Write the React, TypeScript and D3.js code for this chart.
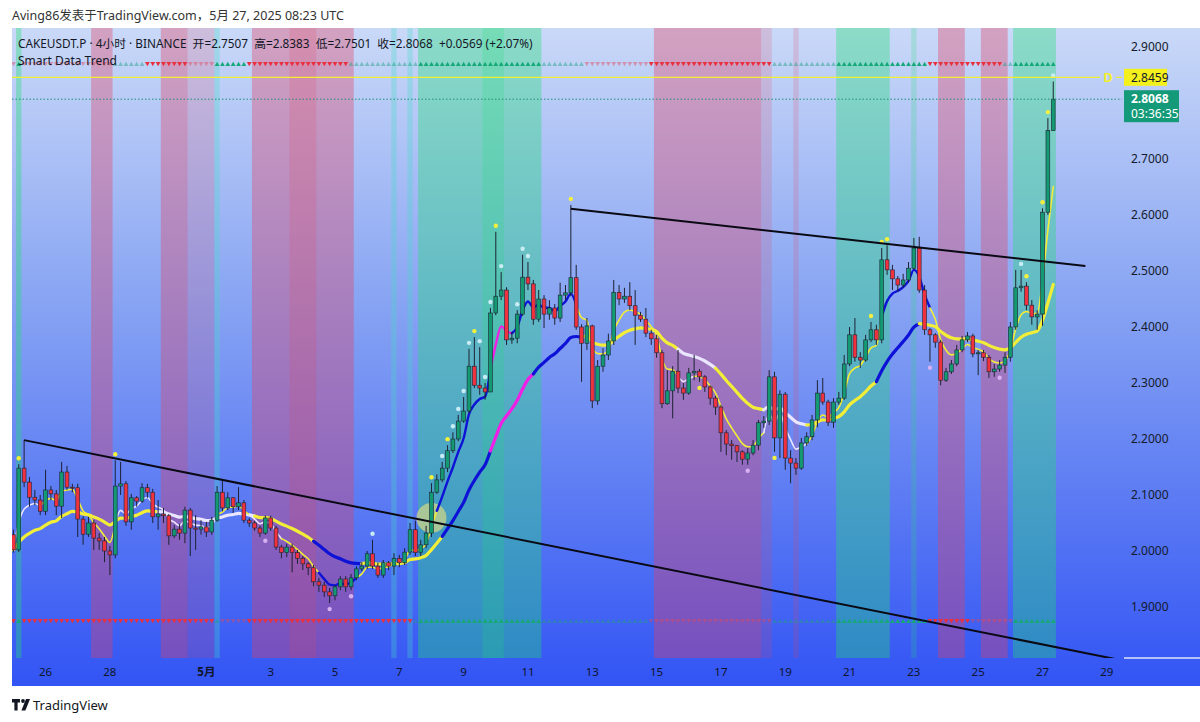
import { useEffect, useRef } from 'react';
import * as d3 from 'd3';

// 4h bars, CAKEUSDT.P, starting 25 Apr 2025 00:00 UTC
const startTime = Date.UTC(2025, 3, 25, 0, 0);
const barMs = 4 * 60 * 60 * 1000;

const firstOpen = 2.029;
const closes = [
	2.002, 2.148, 2.123, 2.096, 2.091, 2.071, 2.109, 2.102, 2.080, 2.141,
	2.114, 2.113, 2.057, 2.030, 2.050, 2.023, 2.018, 2.000, 1.993, 2.116,
	2.120, 2.052, 2.095, 2.089, 2.113, 2.105, 2.061, 2.066, 2.063, 2.027,
	2.039, 2.032, 2.073, 2.041, 2.039, 2.043, 2.034, 2.055, 2.105, 2.077,
	2.095, 2.079, 2.086, 2.055, 2.050, 2.041, 2.032, 2.059, 2.041, 2.007,
	1.997, 2.007, 1.997, 1.987, 1.977, 1.970, 1.945, 1.939, 1.927, 1.920,
	1.936, 1.950, 1.936, 1.952, 1.968, 1.973, 1.995, 1.973, 1.957, 1.979,
	1.973, 1.987, 1.979, 1.998, 2.038, 1.997, 2.011, 2.032, 2.105, 2.127,
	2.148, 2.179, 2.200, 2.232, 2.250, 2.330, 2.296, 2.291, 2.284, 2.425,
	2.455, 2.466, 2.377, 2.380, 2.423, 2.489, 2.477, 2.414, 2.450, 2.423,
	2.434, 2.416, 2.457, 2.461, 2.488, 2.400, 2.371, 2.402, 2.268, 2.330,
	2.350, 2.375, 2.462, 2.450, 2.455, 2.438, 2.421, 2.414, 2.389, 2.379,
	2.354, 2.263, 2.286, 2.321, 2.291, 2.282, 2.318, 2.321, 2.311, 2.293,
	2.273, 2.257, 2.211, 2.191, 2.188, 2.177, 2.164, 2.175, 2.189, 2.229,
	2.232, 2.311, 2.202, 2.280, 2.166, 2.157, 2.148, 2.193, 2.204, 2.234,
	2.282, 2.266, 2.230, 2.266, 2.273, 2.334, 2.386, 2.346, 2.341, 2.377,
	2.395, 2.377, 2.520, 2.502, 2.486, 2.475, 2.484, 2.505, 2.541, 2.466,
	2.395, 2.386, 2.373, 2.305, 2.320, 2.334, 2.359, 2.377, 2.384, 2.352,
	2.354, 2.346, 2.320, 2.325, 2.332, 2.346, 2.400, 2.470, 2.473, 2.439,
	2.418, 2.423, 2.605, 2.7507, 2.8068,
];
const highs = [
	2.038, 2.155, 2.198, 2.132, 2.109, 2.100, 2.145, 2.116, 2.109, 2.159,
	2.152, 2.120, 2.120, 2.062, 2.061, 2.055, 2.032, 2.025, 2.009, 2.162,
	2.159, 2.125, 2.102, 2.098, 2.121, 2.120, 2.111, 2.091, 2.077, 2.066,
	2.046, 2.048, 2.079, 2.077, 2.064, 2.055, 2.052, 2.061, 2.116, 2.127,
	2.105, 2.096, 2.114, 2.091, 2.059, 2.054, 2.045, 2.063, 2.063, 2.045,
	2.011, 2.013, 2.013, 2.002, 1.991, 1.980, 1.975, 1.952, 1.945, 1.934,
	1.939, 1.955, 1.955, 1.959, 1.973, 1.980, 2.000, 2.020, 1.979, 1.984,
	1.982, 1.996, 1.993, 2.005, 2.050, 2.054, 2.020, 2.045, 2.121, 2.137,
	2.159, 2.189, 2.212, 2.243, 2.275, 2.361, 2.382, 2.364, 2.300, 2.434,
	2.570, 2.498, 2.471, 2.391, 2.430, 2.529, 2.516, 2.484, 2.466, 2.457,
	2.448, 2.441, 2.479, 2.475, 2.618, 2.511, 2.405, 2.416, 2.404, 2.341,
	2.362, 2.388, 2.484, 2.475, 2.470, 2.480, 2.466, 2.427, 2.434, 2.395,
	2.386, 2.359, 2.323, 2.330, 2.359, 2.300, 2.327, 2.350, 2.325, 2.314,
	2.296, 2.277, 2.261, 2.216, 2.198, 2.189, 2.180, 2.184, 2.198, 2.234,
	2.241, 2.323, 2.320, 2.287, 2.284, 2.180, 2.166, 2.202, 2.212, 2.243,
	2.305, 2.309, 2.270, 2.273, 2.284, 2.350, 2.400, 2.416, 2.355, 2.386,
	2.409, 2.404, 2.541, 2.546, 2.511, 2.491, 2.495, 2.516, 2.559, 2.561,
	2.475, 2.398, 2.389, 2.377, 2.327, 2.341, 2.368, 2.384, 2.391, 2.388,
	2.359, 2.359, 2.350, 2.334, 2.341, 2.355, 2.409, 2.502, 2.502, 2.480,
	2.448, 2.430, 2.612, 2.773, 2.8383,
];
const lows = [
	1.997, 1.998, 2.114, 2.079, 2.082, 2.064, 2.064, 2.091, 2.064, 2.059,
	2.109, 2.105, 2.025, 2.011, 2.025, 2.002, 2.002, 1.980, 1.957, 1.987,
	2.100, 2.045, 2.038, 2.079, 2.086, 2.095, 2.050, 2.038, 2.050, 2.011,
	2.023, 2.020, 2.014, 1.991, 2.002, 2.029, 2.025, 2.029, 2.052, 2.071,
	2.073, 2.068, 2.073, 2.050, 2.043, 2.036, 2.025, 2.029, 2.036, 2.002,
	1.987, 1.989, 1.962, 1.977, 1.966, 1.957, 1.937, 1.927, 1.918, 1.907,
	1.912, 1.930, 1.927, 1.930, 1.948, 1.964, 1.968, 1.968, 1.952, 1.952,
	1.966, 1.957, 1.971, 1.975, 1.993, 1.991, 1.991, 2.005, 2.025, 2.102,
	2.123, 2.141, 2.175, 2.196, 2.229, 2.246, 2.291, 2.279, 2.270, 2.284,
	2.421, 2.448, 2.368, 2.370, 2.371, 2.420, 2.466, 2.404, 2.409, 2.398,
	2.413, 2.404, 2.409, 2.448, 2.455, 2.395, 2.302, 2.359, 2.255, 2.261,
	2.320, 2.341, 2.368, 2.439, 2.443, 2.430, 2.368, 2.409, 2.382, 2.368,
	2.345, 2.255, 2.261, 2.237, 2.282, 2.270, 2.279, 2.305, 2.302, 2.284,
	2.261, 2.243, 2.177, 2.171, 2.163, 2.159, 2.154, 2.154, 2.171, 2.180,
	2.220, 2.225, 2.177, 2.166, 2.145, 2.121, 2.136, 2.145, 2.188, 2.198,
	2.221, 2.261, 2.223, 2.220, 2.261, 2.270, 2.330, 2.338, 2.327, 2.338,
	2.373, 2.368, 2.371, 2.493, 2.466, 2.463, 2.470, 2.479, 2.502, 2.461,
	2.386, 2.338, 2.363, 2.296, 2.302, 2.316, 2.330, 2.355, 2.373, 2.346,
	2.314, 2.339, 2.309, 2.311, 2.320, 2.318, 2.338, 2.395, 2.463, 2.430,
	2.404, 2.395, 2.402, 2.600, 2.7501,
];

const priceTicks = [1.9, 2.0, 2.1, 2.2, 2.3, 2.4, 2.5, 2.6, 2.7, 2.9];
const dayLabels = ['26', '28', '5月', '3', '5', '7', '9', '11', '13', '15', '17', '19', '21', '23', '25', '27', '29'];
const dayDates = [
	'2025-04-26', '2025-04-28', '2025-05-01', '2025-05-03', '2025-05-05', '2025-05-07', '2025-05-09', '2025-05-11',
	'2025-05-13', '2025-05-15', '2025-05-17', '2025-05-19', '2025-05-21', '2025-05-23', '2025-05-25', '2025-05-27', '2025-05-29',
];

// trend state runs: [first bar, last bar, state]
const bandRuns: [number, number, string][] = [
	[1, 1, 'G'], [15, 18, 'R'], [28, 32, 'R'], [33, 37, 'r'], [38, 38, 'c'], [45, 63, 'R'], [52, 56, 'r'],
	[71, 71, 'c'], [74, 74, 'c'], [76, 98, 'G'], [88, 91, 'g'], [120, 139, 'R'], [140, 141, 'r'], [146, 146, 'r'],
	[154, 163, 'G'], [168, 168, 'g'], [173, 177, 'R'], [181, 185, 'R'], [187, 194, 'G'],
];
const topRowRuns: [number, number, string][] = [
	[0, 0, 'd'], [1, 1, 'U'], [2, 18, 'd'], [19, 24, 'u'], [25, 32, 'D'], [33, 37, 'd'], [38, 43, 'U'], [44, 62, 'D'],
	[63, 75, 'u'], [76, 98, 'U'], [99, 106, 'u'], [107, 118, 'd'], [119, 141, 'D'], [142, 153, 'u'], [154, 170, 'U'],
	[171, 184, 'D'], [185, 186, 'u'], [187, 194, 'U'],
];
const bottomRowRuns: [number, number, string][] = [
	[0, 0, 'D'], [1, 1, 'U'], [2, 37, 'D'], [38, 38, 'u'], [39, 43, 'd'], [44, 74, 'D'], [75, 75, 'u'], [76, 98, 'U'],
	[99, 118, 'u'], [119, 141, 'd'], [142, 153, 'u'], [154, 170, 'U'], [171, 178, 'D'], [179, 186, 'd'], [187, 194, 'U'],
];
const fastRuns: [number, number, string][] = [
	[0, 4, 'w'], [5, 18, 'y'], [19, 37, 'w'], [38, 43, 'y'], [44, 49, 'w'], [50, 56, 'y'], [57, 63, 'b'], [64, 78, 'y'],
	[79, 88, 'b'], [89, 92, 'm'], [93, 104, 'b'], [105, 123, 'y'], [124, 126, 'w'], [127, 139, 'y'], [140, 147, 'w'],
	[148, 161, 'y'], [162, 170, 'b'], [171, 194, 'y'],
];
const slowRuns: [number, number, string][] = [
	[0, 26, 'y'], [27, 44, 'w'], [45, 55, 'y'], [56, 64, 'b'], [65, 79, 'y'], [80, 88, 'b'], [89, 96, 'm'], [97, 105, 'b'],
	[106, 123, 'y'], [124, 130, 'w'], [131, 139, 'y'], [140, 147, 'w'], [148, 160, 'y'], [161, 168, 'b'], [169, 194, 'y'],
];

const yellowDotsAbove = [1, 19, 78, 81, 86, 90, 104, 160, 162, 163, 189, 192, 193];
const paleDotsAbove = [67, 80, 82, 83, 84, 85, 87, 88, 89, 91, 94, 95, 96, 188, 194];
const yellowDotsBelow = [128, 142];
const pinkDotsBelow = [47, 59, 63, 137, 171, 184];

const lowerTrend: [number, number][] = [[2, 2.198], [190, 1.837]];
const upperTrend: [number, number][] = [[104, 2.611], [200, 2.509]];
const breakout: [number, number] = [78, 2.059];
const dailyLevel = 2.8459;
const lastPrice = 2.8068;
const countdown = '03:36:35';

const ema = (vals: number[], n: number) => {
	const a = 2 / (n + 1);
	let e = vals[0];
	return vals.map((v, i) => (i === 0 ? e : (e = e + a * (v - e))));
};

const lineColors: Record<string, string> = { y: '#f2ee38', w: '#ebe6ff', b: '#0d12d6', m: '#f01fe6' };
const bandColors: Record<string, string> = {
	R: 'rgba(226,64,96,0.36)', r: 'rgba(226,64,96,0.18)', G: 'rgba(30,225,115,0.36)',
	g: 'rgba(30,225,115,0.2)', c: 'rgba(70,220,200,0.3)',
};
const markColors: Record<string, string> = {
	U: '#17a879', u: 'rgba(30,160,130,0.45)', D: '#e8303e', d: 'rgba(225,70,90,0.45)',
};

const FONT = "'Noto Sans', 'Noto Sans CJK SC', sans-serif";

export default function App() {
	const svgRef = useRef<SVGSVGElement>(null);

	useEffect(() => {
		if (!svgRef.current) return;
		const svg = d3.select(svgRef.current);
		svg.selectAll('*').remove();

		const left = 12, right = 1122, top = 28, bottom = 658, frameBottom = 686;
		const step = 5.36;
		const n = closes.length;
		const opens = [firstOpen, ...closes.slice(0, -1)];

		const x = d3
			.scaleTime()
			.domain([new Date(startTime), new Date(startTime + 204 * barMs)])
			.range([13.4, 13.4 + 204 * step]);
		const xi = (i: number) => x(new Date(startTime + i * barMs));
		const y = d3.scaleLinear().domain([1.9, 2.9]).range([607, 47]);

		const defs = svg.append('defs');
		const grad = defs
			.append('linearGradient')
			.attr('id', 'bg')
			.attr('gradientUnits', 'userSpaceOnUse')
			.attr('x1', 0).attr('y1', top).attr('x2', 0).attr('y2', frameBottom);
		grad.append('stop').attr('offset', '0%').attr('stop-color', '#cad9f8');
		grad.append('stop').attr('offset', '40%').attr('stop-color', '#8aa6f3');
		grad.append('stop').attr('offset', '100%').attr('stop-color', '#3254f4');
		defs.append('clipPath').attr('id', 'plot')
			.append('rect').attr('x', left).attr('y', top).attr('width', right - left).attr('height', bottom - top);

		svg.append('rect').attr('width', 1200).attr('height', 722).attr('fill', '#ffffff');
		svg.append('rect').attr('x', left).attr('y', top).attr('width', 1200 - left).attr('height', frameBottom - top).attr('fill', 'url(#bg)');

		const plot = svg.append('g').attr('clip-path', 'url(#plot)');

		// trend bands
		plot.selectAll('.band')
			.data(bandRuns)
			.enter()
			.append('rect')
			.attr('x', (d) => xi(d[0]) - step / 2)
			.attr('width', (d) => xi(d[1]) - xi(d[0]) + step)
			.attr('y', top)
			.attr('height', bottom - top)
			.attr('fill', (d) => bandColors[d[2]]);

		// triangle rows
		const tri = (cx: number, cy: number, up: boolean) =>
			up
				? `M${cx - 2.4},${cy + 2}L${cx + 2.4},${cy + 2}L${cx},${cy - 2.2}Z`
				: `M${cx - 2.4},${cy - 2}L${cx + 2.4},${cy - 2}L${cx},${cy + 2.2}Z`;
		const drawRow = (runs: [number, number, string][], cy: number) => {
			runs.forEach(([s, e, k]) => {
				for (let i = s; i <= e; i++) {
					plot.append('path').attr('d', tri(xi(i), cy, k === 'U' || k === 'u')).attr('fill', markColors[k]);
				}
			});
		};
		drawRow(topRowRuns, 64);
		drawRow(bottomRowRuns, 621);

		// breakout circle
		plot.append('circle')
			.attr('cx', xi(breakout[0])).attr('cy', y(breakout[1])).attr('r', 15)
			.attr('fill', 'rgba(238,226,120,0.6)');

		// trend lines of the indicator
		const fast = ema(closes, 5);
		const slow = ema(closes, 21);
		const drawRuns = (series: number[], runs: [number, number, string][], thin: boolean) => {
			runs.forEach(([s, e, c]) => {
				const idx = d3.range(s, Math.min(e + 1, n - 1) + 1);
				const line = d3.line<number>().x((i) => xi(i)).y((i) => y(series[i])).curve(d3.curveMonotoneX);
				plot.append('path')
					.datum(idx)
					.attr('d', line)
					.attr('fill', 'none')
					.attr('stroke', lineColors[c])
					.attr('stroke-width', thin ? (c === 'b' || c === 'm' ? 2.4 : 1.6) : 3.2)
					.attr('stroke-linecap', 'round');
			});
		};
		drawRuns(slow, slowRuns, false);
		drawRuns(fast, fastRuns, true);

		// candles
		const candles = plot.selectAll('.c').data(d3.range(n)).enter().append('g');
		candles.append('line')
			.attr('x1', (i) => xi(i)).attr('x2', (i) => xi(i))
			.attr('y1', (i) => y(highs[i])).attr('y2', (i) => y(lows[i]))
			.attr('stroke', '#1d2233').attr('stroke-width', 1);
		candles.append('rect')
			.attr('x', (i) => xi(i) - 1.9)
			.attr('width', 3.8)
			.attr('y', (i) => y(Math.max(opens[i], closes[i])))
			.attr('height', (i) => Math.max(1, Math.abs(y(opens[i]) - y(closes[i]))))
			.attr('fill', (i) => (closes[i] >= opens[i] ? '#139a72' : '#f0323f'))
			.attr('stroke', '#1d2233').attr('stroke-width', 0.6);

		// signal dots
		const dots = (list: number[], above: boolean, color: string) => {
			plot.selectAll(null)
				.data(list)
				.enter()
				.append('circle')
				.attr('cx', (i) => xi(i))
				.attr('cy', (i) => (above ? y(highs[i]) - 6 : y(lows[i]) + 6))
				.attr('r', 2.2)
				.attr('fill', color);
		};
		dots(yellowDotsAbove, true, '#f4f03c');
		dots(paleDotsAbove, true, '#c8ecf4');
		dots(yellowDotsBelow, false, '#f4f03c');
		dots(pinkDotsBelow, false, '#d6b0f0');

		// drawn trend lines
		const trendAt = (t: [number, number][], i: number) =>
			t[0][1] + ((t[1][1] - t[0][1]) * (i - t[0][0])) / (t[1][0] - t[0][0]);
		plot.append('line')
			.attr('x1', xi(lowerTrend[0][0])).attr('y1', y(lowerTrend[0][1]))
			.attr('x2', xi(210)).attr('y2', y(trendAt(lowerTrend, 210)))
			.attr('stroke', '#0a0a14').attr('stroke-width', 2);
		plot.append('line')
			.attr('x1', xi(upperTrend[0][0])).attr('y1', y(upperTrend[0][1]))
			.attr('x2', xi(upperTrend[1][0])).attr('y2', y(upperTrend[1][1]))
			.attr('stroke', '#0a0a14').attr('stroke-width', 2);

		// daily level + last price
		const yD = y(dailyLevel);
		svg.append('line').attr('x1', left).attr('x2', 1100).attr('y1', yD).attr('y2', yD).attr('stroke', '#f2ee30').attr('stroke-width', 1.2);
		svg.append('line').attr('x1', 1116).attr('x2', right).attr('y1', yD).attr('y2', yD).attr('stroke', '#f2ee30').attr('stroke-width', 1.2);
		svg.append('text').attr('x', 1108).attr('y', yD + 5).attr('text-anchor', 'middle')
			.attr('font-family', FONT).attr('font-size', 13).attr('font-weight', 'bold').attr('fill', '#f2ee30').text('D');
		const yL = y(lastPrice);
		svg.append('line').attr('x1', left).attr('x2', right).attr('y1', yL).attr('y2', yL)
			.attr('stroke', '#1f8f78').attr('stroke-width', 1).attr('stroke-dasharray', '1.5,2');

		// price axis
		svg.append('g').selectAll('text').data(priceTicks).enter().append('text')
			.attr('x', 1131).attr('y', (d) => y(d) + 4)
			.attr('font-family', FONT).attr('font-size', 12).attr('fill', '#151a2c')
			.text((d) => d.toFixed(4));
		svg.append('rect').attr('x', 1124).attr('y', yD - 8.5).attr('width', 43).attr('height', 17).attr('fill', '#f4f01c');
		svg.append('text').attr('x', 1131).attr('y', yD + 4.5).attr('font-family', FONT).attr('font-size', 12)
			.attr('fill', '#151a2c').text(dailyLevel.toFixed(4));
		svg.append('rect').attr('x', 1124).attr('y', yL - 9).attr('width', 55).attr('height', 32).attr('fill', '#149a78');
		svg.append('text').attr('x', 1131).attr('y', yL + 4).attr('font-family', FONT).attr('font-size', 12)
			.attr('font-weight', 'bold').attr('fill', '#ffffff').text(lastPrice.toFixed(4));
		svg.append('text').attr('x', 1131).attr('y', yL + 19).attr('font-family', FONT).attr('font-size', 12)
			.attr('fill', '#ffffff').text(countdown);
		svg.append('line').attr('x1', 1124).attr('x2', 1200).attr('y1', bottom).attr('y2', bottom)
			.attr('stroke', '#dfe6fb').attr('stroke-width', 1.5);

		// time axis
		svg.append('g').selectAll('text').data(dayLabels).enter().append('text')
			.attr('x', (_, k) => x(new Date(dayDates[k] + 'T00:00:00Z')))
			.attr('y', 676)
			.attr('text-anchor', 'middle')
			.attr('font-family', FONT).attr('font-size', 11.5)
			.attr('font-weight', (d) => (d === '5月' ? 'bold' : 'normal'))
			.attr('fill', '#10152a')
			.text((d) => d);

		// legend
		svg.append('text').attr('x', 18).attr('y', 48).attr('font-family', FONT).attr('font-size', 11.8).attr('fill', '#141826')
			.text('CAKEUSDT.P · 4小时 · BINANCE  开=2.7507  高=2.8383  低=2.7501  收=2.8068  +0.0569 (+2.07%)')
			.attr('xml:space', 'preserve');
		svg.append('text').attr('x', 18).attr('y', 65).attr('font-family', FONT).attr('font-size', 12).attr('fill', '#141826')
			.text('Smart Data Trend');

		// header and footer
		svg.append('text').attr('x', 12).attr('y', 20).attr('font-family', FONT).attr('font-size', 12.5).attr('fill', '#333333')
			.text('Aving86发表于TradingView.com，5月 27, 2025 08:23 UTC');
		const logo = svg.append('g').attr('fill', '#131722');
		logo.append('path').attr('d', 'M12,699 h8 v3.6 h-2.4 v8 h-3.2 v-8 h-2.4 Z');
		logo.append('circle').attr('cx', 23).attr('cy', 701).attr('r', 1.9);
		logo.append('path').attr('d', 'M26,699 h4 l-4.6,11.6 h-4 Z');
		svg.append('text').attr('x', 33).attr('y', 710).attr('font-family', FONT).attr('font-size', 13).attr('fill', '#131722')
			.text('TradingView');
	}, []);

	return (
		<svg
			ref={svgRef}
			width={1200}
			height={722}
			style={{ position: 'absolute', left: 0, top: 0, display: 'block' }}
		/>
	);
}
